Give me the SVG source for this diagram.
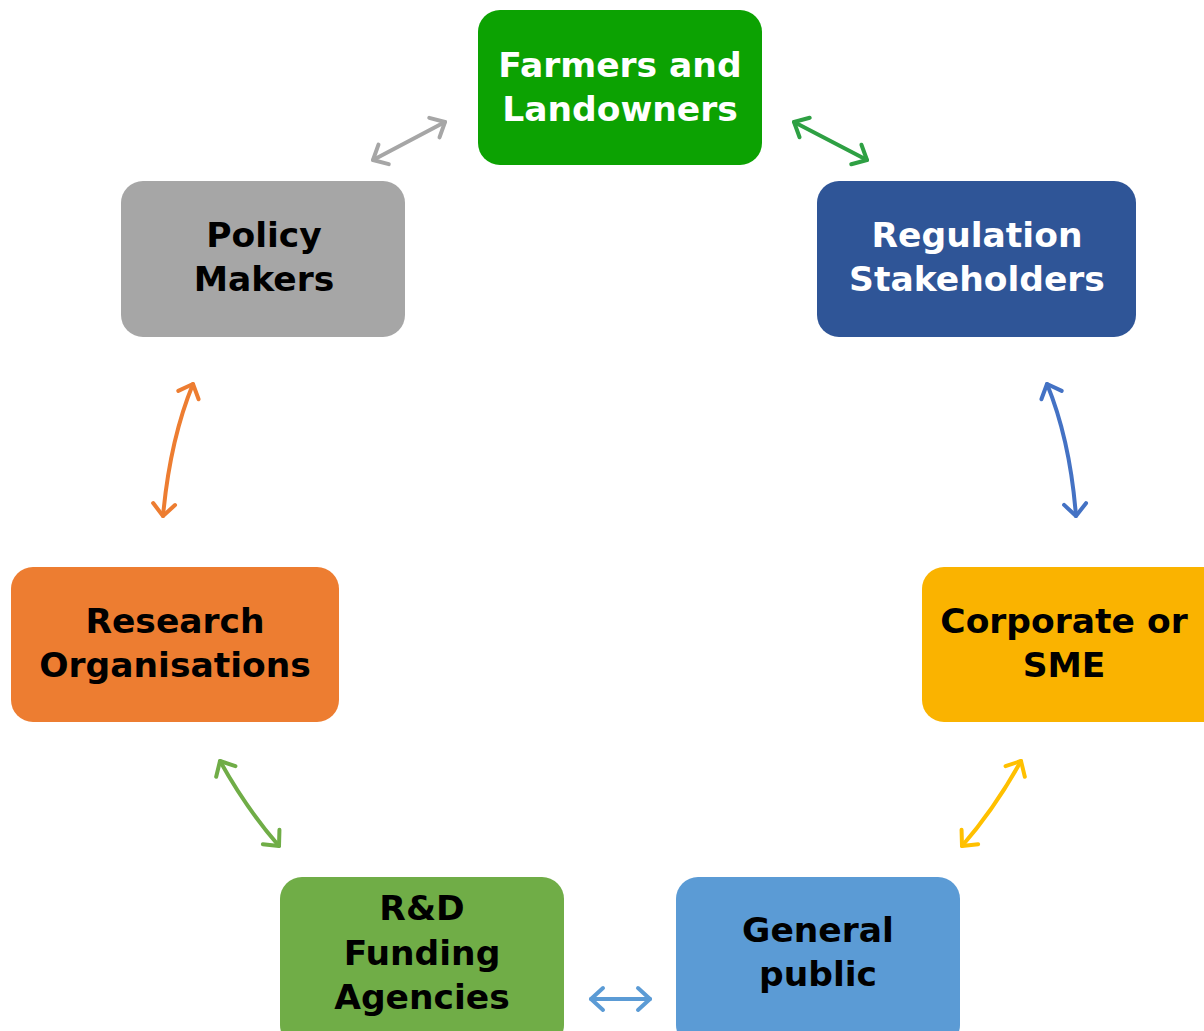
<svg xmlns="http://www.w3.org/2000/svg" width="1204" height="1031" viewBox="0 0 1204 1031">
<style>
.t{font-family:"DejaVu Sans","Liberation Sans",sans-serif;font-weight:bold;font-size:34.5px;text-anchor:middle}
.w{fill:#fff}.k{fill:#000}
.c{fill:none;stroke-width:4;stroke-linecap:round}
</style>
<defs>
<marker id="mg" markerUnits="userSpaceOnUse" markerWidth="30" markerHeight="30" refX="15" refY="15" orient="auto-start-reverse" viewBox="0 0 30 30"><path d="M3 4 L15 15 L3 26" fill="none" stroke="#A6A6A6" stroke-width="4" stroke-linecap="round" stroke-linejoin="round"/></marker>
<marker id="mG" markerUnits="userSpaceOnUse" markerWidth="30" markerHeight="30" refX="15" refY="15" orient="auto-start-reverse" viewBox="0 0 30 30"><path d="M3 4 L15 15 L3 26" fill="none" stroke="#2EA043" stroke-width="4" stroke-linecap="round" stroke-linejoin="round"/></marker>
<marker id="mb" markerUnits="userSpaceOnUse" markerWidth="30" markerHeight="30" refX="15" refY="15" orient="auto-start-reverse" viewBox="0 0 30 30"><path d="M3 4 L15 15 L3 26" fill="none" stroke="#4472C4" stroke-width="4" stroke-linecap="round" stroke-linejoin="round"/></marker>
<marker id="my" markerUnits="userSpaceOnUse" markerWidth="30" markerHeight="30" refX="15" refY="15" orient="auto-start-reverse" viewBox="0 0 30 30"><path d="M3 4 L15 15 L3 26" fill="none" stroke="#FFC000" stroke-width="4" stroke-linecap="round" stroke-linejoin="round"/></marker>
<marker id="ml" markerUnits="userSpaceOnUse" markerWidth="30" markerHeight="30" refX="15" refY="15" orient="auto-start-reverse" viewBox="0 0 30 30"><path d="M3 4 L15 15 L3 26" fill="none" stroke="#5B9BD5" stroke-width="4" stroke-linecap="round" stroke-linejoin="round"/></marker>
<marker id="mn" markerUnits="userSpaceOnUse" markerWidth="30" markerHeight="30" refX="15" refY="15" orient="auto-start-reverse" viewBox="0 0 30 30"><path d="M3 4 L15 15 L3 26" fill="none" stroke="#70AD47" stroke-width="4" stroke-linecap="round" stroke-linejoin="round"/></marker>
<marker id="mo" markerUnits="userSpaceOnUse" markerWidth="30" markerHeight="30" refX="15" refY="15" orient="auto-start-reverse" viewBox="0 0 30 30"><path d="M3 4 L15 15 L3 26" fill="none" stroke="#ED7D31" stroke-width="4" stroke-linecap="round" stroke-linejoin="round"/></marker>
</defs>
<g id="connectors">
<path class="c" stroke="#A6A6A6" d="M373 160 L445 122" marker-start="url(#mg)" marker-end="url(#mg)"/>
<path class="c" stroke="#2EA043" d="M794 122 L867 160" marker-start="url(#mG)" marker-end="url(#mG)"/>
<path class="c" stroke="#4472C4" d="M1047 384 Q1070 440 1076 516" marker-start="url(#mb)" marker-end="url(#mb)"/>
<path class="c" stroke="#FFC000" d="M1021 761 Q995 808 962 846" marker-start="url(#my)" marker-end="url(#my)"/>
<path class="c" stroke="#5B9BD5" d="M591 999 L650 999" marker-start="url(#ml)" marker-end="url(#ml)"/>
<path class="c" stroke="#70AD47" d="M220 761 Q246 808 279 846" marker-start="url(#mn)" marker-end="url(#mn)"/>
<path class="c" stroke="#ED7D31" d="M193 384 Q170 440 163 516" marker-start="url(#mo)" marker-end="url(#mo)"/>
</g>
<g id="farmers"><rect x="478" y="10" width="284" height="155" rx="22" fill="#0CA202"/><text class="t w" x="620" y="77">Farmers and</text><text class="t w" x="620" y="121">Landowners</text></g>
<g id="regulation"><rect x="817" y="181" width="319" height="156" rx="22" fill="#2F5597"/><text class="t w" x="977" y="247">Regulation</text><text class="t w" x="977" y="291">Stakeholders</text></g>
<g id="policy"><rect x="121" y="181" width="284" height="156" rx="22" fill="#A6A6A6"/><text class="t k" x="264" y="247">Policy</text><text class="t k" x="264" y="291">Makers</text></g>
<g id="research"><rect x="11" y="567" width="328" height="155" rx="22" fill="#ED7D31"/><text class="t k" x="175" y="633">Research</text><text class="t k" x="175" y="677">Organisations</text></g>
<g id="corporate"><rect x="922" y="567" width="310" height="155" rx="22" fill="#FAB300"/><text class="t k" x="1064" y="633">Corporate or</text><text class="t k" x="1064" y="677">SME</text></g>
<g id="rnd"><rect x="280" y="877" width="284" height="170" rx="22" fill="#70AD47"/><text class="t k" x="422" y="920">R&amp;D</text><text class="t k" x="422" y="965">Funding</text><text class="t k" x="422" y="1009">Agencies</text></g>
<g id="public"><rect x="676" y="877" width="284" height="170" rx="22" fill="#5B9BD5"/><text class="t k" x="818" y="942">General</text><text class="t k" x="818" y="986">public</text></g>
</svg>
